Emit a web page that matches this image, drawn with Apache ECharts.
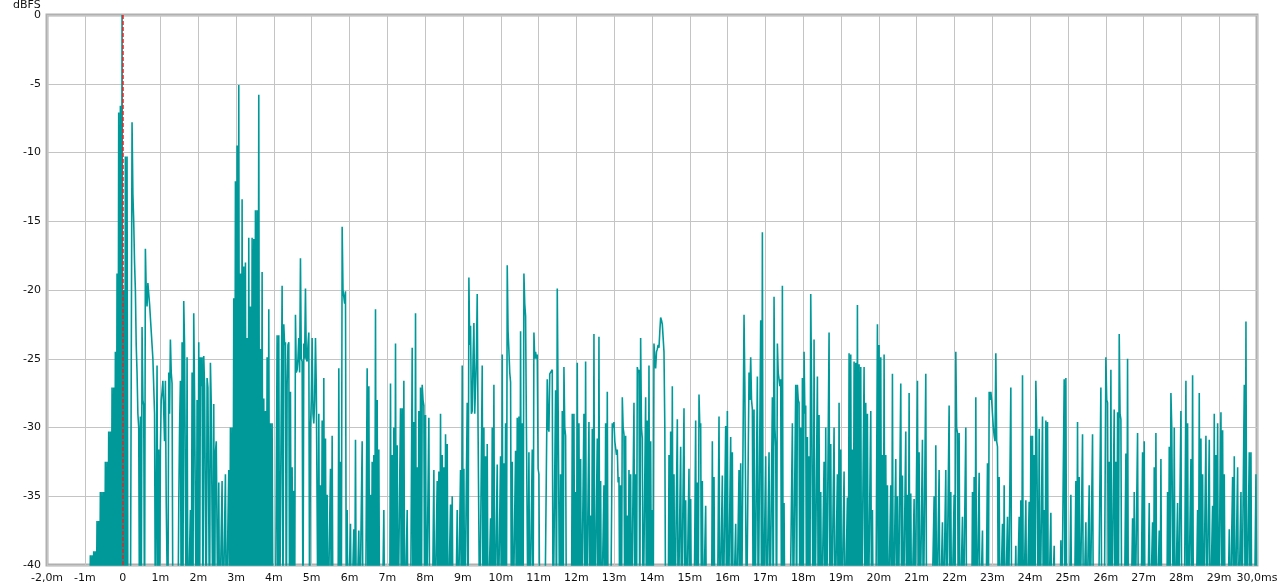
<!DOCTYPE html>
<html>
<head>
<meta charset="utf-8">
<style>
html,body{margin:0;padding:0;background:#fff;}
#chart{width:1280px;height:587px;}
</style>
<script src="https://cdn.jsdelivr.net/npm/echarts@6/dist/echarts.min.js"></script>
</head>
<body>
<div id="chart"></div>
<script>
// Sampling grid of the measured response (ms)
const startTime = -2.0;
const sampleStep = 0.02205;

// Axis settings / tick labels
const xMin = -2, xMax = 30, xStep = 1;
const yMin = -40, yMax = 0, yStep = 5;
const xTickLabels = ['-2,0m','-1m','0','1m','2m','3m','4m','5m','6m','7m','8m','9m','10m','11m','12m','13m','14m','15m','16m','17m','18m','19m','20m','21m','22m','23m','24m','25m','26m','27m','28m','29m','30,0ms'];
const yAxisTitle = 'dBFS';
const markerTime = 0;

// Levels in dBFS, consecutive samples (values below -40 are off-scale)
const levelsA = [
-45,-45,-45,-45,-45,-45,-45,-45,-45,-45,-45,-45,-45,-45,-45,-45,-45,-45,-45,-45,-45,-45,-45,-45,-45,-45,
-45,-45,-45,-45,-45,-45,-45,-45,-45,-45,-45,-45,-45,-45,-45,-45,-45,-45,-45,-45,-45,-45,-45,-45,-45,-45,
-39.3,-45,-39.3,-45,-39,-45,-39,-45,-36.8,-45,-36.8,-45,-34.7,-45,-34.7,-45,-34.7,-45,-32.5,-45,
-32.5,-45,-30.3,-45,-30.3,-45,-27.1,-45,-27.1,-45,-24.5,-45,-18.8,-45,-7.1,-45,-6.6,-45,0,-45,
-20,-45,-10.3,-45,-10.3,-45,-45,-45,-45,-45,-7.8,-13,-15,-18,-20,-24,-26,-29,-30,-45,
-29.2,-45,-22.7,-28,-28.4,-45,-17.0,-20,-21.2,-19.5,-19.6,-21,-22,-23,-24,-25,-27,-29,-45,-45,
-25.5,-45,-31.6,-45,-31.6,-28,-27.4,-26.6,-26.6,-31,-26.6,-35.5,-35.5,-45,-26,-29,-23.6,-26,-26.8,-45,
-45,-45,-45,-45,-45,-45,-36.0,-30,-26.6,-45,-23.8,-45,-20.8,-24,-24,-45,-24.9,-45,-45,-45,
-36,-45,-26,-45,-21.7,-27.7,-27.7,-45,-28,-45,-23.8,-45,-24.9,-27,-24.9,-45,-24.8,-27,-27,-45,
-26.4,-27.1,-27.1,-45,-25.3,-28.3,-28.3,-45,-28.3,-45,-31.8,-31,-31,-45,-34,-45,-45,-45,-33.9,-45,
-45,-45,-33.4,-45,-45,-45,-33.1,-45,-30,-45,-30,-45,-20.6,-45,-12.1,-45,-9.5,-45,-5.1,-45,
-18.8,-45,-13.4,-45,-18.3,-45,-18,-45,-23.5,-45,-16.2,-45
];
const levelsB = [
-21.2,-45,-16.2,-45,-16.3,-45,-14.2,-45,-14.2,-45,-5.8,-45,-24.3,-45,-18.7,-45,-27.9,-45,-28.8,-45,
-24.9,-45,-21.4,-45,-29.7,-45,-29.7,-45,-45,-45,-45,-45,-23.3,-45,-23.3,-45,-45,-45,-19.7,-45,
-22.5,-24,-23.8,-45,-26.9,-24,-23.8,-45,-27.4,-45,-32.9,-45,-34.6,-45,-21.8,-26,-25.8,-25,-23.5,-26,
-17.7,-25,-25.2,-45,-23.9,-25,-19.9,-25,-25.2,-24,-23.1,-45,-30.1,-28,-23.5,-29,-29.7,-28,-23.5,-27,
-27.1,-45,-29,-45,-34.2,-45,-29.5,-45,-26.4,-45,-30.8,-45,-34.9,-45,-45,-45,-33,-45,-30.6,-45,
-45,-45,-45,-45,-45,-45,-25.7,-45,-32.5,-45,-15.4,-20,-20.1,-21,-20.1,-45,-36,-45,-45,-45,
-37,-45,-45,-45,-37.4,-45,-30.9,-45,-45,-45,-37.5,-45,-45,-45,-31,-45,-45,-45,-45,-45,
-25.7,-45,-27,-45,-34.9,-45,-32.5,-45,-32,-45,-21.4,-45,-28,-45,-31.6,-45,-45,-45,-45,-45,
-36,-45,-45,-45,-45,-45,-45,-45,-26.8,-45,-32,-45,-30,-45,-23.9,-45,-31.3,-45,-45,-45,
-28.6,-45,-28.6,-45,-26.6,-45,-45,-45,-36,-45,-45,-45,-45,-45,-24.2,-45,-29.6,-45,-21.7,-45,
-32.9,-45,-28.8,-45,-27.1,-45,-26.9,-28,-28.4,-45,-29.1,-45,-45,-45,-29.3,-45,-45,-45,-45,-45,
-33.1,-45,-45,-45,-33.9,-45,-33.2,-45,-29,-45,-32,-45,-32.9,-45,-30.5,-45,-31.2,-45,-45,-45
];
const levelsC = [
-35.6,-45,-35,-45,-45,-45,-45,-45,-36,-45,-45,-45,-33.1,-45,-25.5,-45,-33,-45,-45,-45,
-28.2,-45,-19.1,-24,-22.6,-29,-28.8,-25,-22.4,-29,-29.1,-25,-20.3,-30,-30,-45,-45,-45,-25.5,-45,
-30,-45,-32.1,-45,-31.2,-45,-45,-45,-36.6,-45,-30,-45,-26.9,-45,-45,-45,-32.7,-45,-45,-45,
-32.1,-45,-24.7,-45,-32.6,-45,-29.7,-45,-18.2,-23,-24.4,-26,-26.7,-45,-32.5,-45,-45,-45,-31.7,-45,
-29.3,-45,-29.2,-45,-23,-45,-29.7,-45,-18.8,-21,-21.9,-30,-30,-45,-31.8,-45,-45,-45,-31.6,-45,
-23.1,-25,-24.5,-25,-24.7,-33,-33.4,-45,-45,-45,-45,-45,-45,-45,-45,-45,-26.5,-30,-30.3,-26.1,
-26.1,-26,-25.8,-45,-45,-45,-27.3,-45,-19.9,-28,-28,-45,-33.4,-45,-28.8,-45,-25.6,-30,-30.6,-45,
-45,-45,-45,-45,-45,-45,-29,-45,-29,-45,-34.7,-45,-25.3,-45,-29.7,-45,-32.3,-45,-45,-45,
-29,-45,-25.2,-45,-45,-45,-29.6,-45,-36.4,-45,-30.1,-45,-23.2,-45,-45,-45,-30.8,-45,-23.4,-45,
-33.9,-45,-45,-45,-34.2,-45,-29.7,-45,-27.4,-45,-45,-45,-45,-45,-29.7,-30,-29.6,-31,-30.9,-32,
-31.6,-34,-33.6,-45,-34.2,-45,-27.8,-30,-30.5,-45,-30.6,-45,-36.4,-45,-33.1,-45,-33.4,-45,-45,-45,
-28.2,-45,-33.4,-45,-25.6,-26,-25.8,-45,-23.5,-30,-30.8,-45,-45,-45,-27.8,-45,-29.5,-45,-25.5,-45
];
const levelsD = [
-31,-45,-36,-45,-23.9,-25,-25.7,-24.5,-24.3,-24,-24.2,-23,-22,-22.2,-22.5,-23.5,-24.5,-30,-45,-45,
-45,-45,-32,-45,-30.3,-45,-27,-45,-33.4,-45,-45,-45,-29.4,-45,-45,-45,-31.4,-45,-45,-45,
-28.6,-45,-35.3,-45,-45,-45,-33,-45,-35.2,-45,-45,-45,-45,-45,-29.5,-45,-34,-45,-27.6,-30,
-29.7,-45,-33.9,-45,-45,-45,-35.7,-45,-45,-45,-45,-45,-45,-45,-31,-45,-33.6,-45,-45,-45,
-45,-45,-29.2,-45,-45,-45,-33.5,-45,-45,-45,-29.9,-45,-28.8,-45,-45,-45,-30.7,-45,-31.8,-45,
-45,-45,-37,-45,-45,-45,-33.1,-45,-32.6,-45,-45,-45,-21.8,-27,-27.1,-45,-45,-45,-26,-28,
-24.9,-28,-28.7,-45,-28.7,-45,-45,-45,-26.3,-45,-45,-45,-22.2,-45,-15.8,-45,-45,-45,-32.1,-45,
-45,-45,-31.8,-45,-45,-45,-27.8,-45,-20.5,-30,-31.4,-45,-23.9,-26,-26,-27,-26.5,-45,-19.7,-45,
-35.5,-45,-45,-45,-45,-45,-45,-45,-45,-45,-29.7,-45,-45,-45,-26.9,-45,-26.9,-28,-28.2,-45,
-30,-45,-26.4,-45,-24.5,-29,-28.4,-45,-30.7,-45,-32.1,-45,-20.3,-27,-27.1,-45,-23.6,-45,-45,-45,
-26.3,-45,-29.1,-45,-34.7,-45,-45,-45,-32.5,-45,-30,-45,-45,-45,-23.1,-45,-31.2,-45,-45,-45,
-30,-45,-45,-45,-33.4,-45,-28.2,-45,-31.6,-45,-45,-45,-33.2,-45,-45,-45,-35.1,-45,-24.6,-45
];
const levelsE = [
-24.7,-45,-31.6,-45,-25.2,-45,-25.3,-45,-21.1,-45,-25.4,-45,-25.6,-45,-45,-45,-25.6,-45,-28.2,-45,
-29,-45,-45,-45,-28.8,-45,-36,-45,-45,-45,-45,-45,-22.5,-45,-24,-45,-24.9,-45,-32,-45,
-24.7,-45,-32,-45,-34.2,-45,-45,-45,-34.2,-45,-26.1,-45,-45,-45,-32.3,-45,-35,-45,-45,-45,
-26.8,-45,-33.5,-45,-45,-45,-30.3,-45,-34.9,-45,-27.5,-45,-34.8,-45,-45,-45,-35.2,-45,-45,-45,
-26.6,-45,-31.8,-45,-45,-45,-30.9,-45,-45,-45,-26.1,-45,-45,-45,-45,-45,-45,-45,-45,-45,
-35,-45,-31.3,-45,-45,-45,-33.1,-45,-45,-45,-36.9,-45,-45,-45,-33.1,-45,-45,-45,-28.4,-45,
-34.7,-45,-45,-45,-34.9,-45,-24.5,-30,-30.4,-45,-30.4,-45,-45,-45,-36.5,-45,-45,-45,-30,-45,
-45,-45,-45,-45,-45,-45,-34.7,-45,-33.6,-45,-27.8,-45,-45,-45,-33.3,-45,-45,-45,-37.5,-45,
-45,-45,-45,-45,-32.6,-45,-27.4,-28,-27.4,-28,-28.1,-30,-30.6,-31,-24.6,-31,-31.4,-45,-33.6,-45,
-45,-45,-37,-45,-34.2,-45,-45,-45,-36.5,-45,-45,-45,-27.1,-45,-45,-45,-45,-45,-38.6,-45,
-45,-45,-36.5,-45,-35.3,-45,-26.2,-45,-45,-45,-35.3,-45,-45,-45,-35.4,-45,-30.6,-45,-30.6,-45,
-32,-45,-26.6,-30,-30,-45,-30.1,-45,-45,-45,-29.2,-45,-36,-45,-29.5,-45,-29.6,-45,-45,-45
];
const levelsF = [
-36.2,-45,-45,-45,-38.6,-45,-45,-45,-45,-45,-45,-45,-38.2,-45,-45,-45,-26.5,-45,-26.4,-45,
-45,-45,-45,-45,-34.9,-45,-45,-45,-45,-45,-33.9,-45,-29.6,-45,-33.6,-45,-45,-45,-30.5,-45,
-45,-45,-36.9,-45,-45,-45,-34.2,-45,-45,-45,-30.5,-45,-45,-45,-45,-45,-45,-45,-45,-45,
-27.1,-45,-45,-45,-45,-45,-24.9,-28,-28.2,-45,-32.5,-45,-25.8,-45,-45,-45,-28.7,-45,-32.5,-45,
-28.9,-45,-23.2,-29,-29.4,-45,-45,-45,-45,-45,-31.9,-45,-25,-45,-45,-45,-45,-45,-36.6,-45,
-34.7,-45,-45,-45,-30.4,-45,-45,-45,-45,-45,-31.8,-45,-31,-45,-45,-45,-45,-45,-35.5,-45,
-45,-45,-36.9,-45,-32.9,-45,-30.4,-45,-45,-45,-37.5,-45,-32.3,-45,-45,-45,-45,-45,-45,-45,
-34.7,-45,-31.4,-45,-27.5,-30,-29.9,-45,-30,-45,-45,-45,-35.5,-45,-45,-45,-28.8,-45,-45,-45,
-45,-45,-26.6,-45,-29.7,-45,-45,-45,-32.3,-45,-26.2,-45,-45,-45,-45,-45,-36,-45,-27.5,-45,
-30.8,-45,-33.4,-45,-45,-45,-30.6,-45,-45,-45,-30.9,-45,-45,-45,-35.7,-45,-29,-45,-32,-45,
-29.7,-45,-45,-45,-28.9,-45,-30.2,-45,-33.4,-45,-45,-45,-45,-45,-37.4,-45,-45,-45,-33.6,-45,
-32.1,-45,-45,-45,-32.9,-45,-45,-45,-34.7,-45,-45,-45,-26.9,-45,-22.3,-45,-45,-45,-31.8,-45,
-31.8,-45,-45,-45,-45,-45,-33.4,-45
];

const levels = [].concat(levelsA, levelsB, levelsC, levelsD, levelsE, levelsF);
const seriesData = levels.map((v, i) => [startTime + i * sampleStep, v]);

const chart = echarts.init(document.getElementById('chart'), null, {renderer: 'canvas'});
const font = 'DejaVu Sans';
chart.setOption({
  animation: false,
  backgroundColor: '#ffffff',
  title: {
    text: yAxisTitle, left: 13, top: 0, padding: 0,
    textStyle: {color: '#111', fontFamily: font, fontSize: 11, fontWeight: 'normal'}
  },
  grid: {
    left: 47, right: 23, top: 15, bottom: 22,
    show: true, borderColor: '#b0b0b0', borderWidth: 3,
    outerBoundsMode: 'none'
  },
  xAxis: {
    type: 'value', min: xMin, max: xMax, interval: xStep,
    axisLine: {show: false},
    axisTick: {show: false},
    splitLine: {show: true, lineStyle: {color: '#c4c4c4', width: 1}},
    axisLabel: {
      color: '#111', fontFamily: font, fontSize: 11, margin: 8,
      showMinLabel: true, showMaxLabel: true,
      formatter: v => xTickLabels[Math.round((v - xMin) / xStep)]
    }
  },
  yAxis: {
    type: 'value', min: yMin, max: yMax, interval: yStep,
    axisLine: {show: false},
    axisTick: {show: false},
    splitLine: {show: true, lineStyle: {color: '#c4c4c4', width: 1}},
    axisLabel: {color: '#111', fontFamily: font, fontSize: 11, margin: 6}
  },
  series: [
    {
      type: 'line', data: seriesData, showSymbol: false, symbol: 'none',
      lineStyle: {color: '#009999', width: 1.6}, clip: true, z: 3
    },
    {
      type: 'line', data: [], z: 5, silent: true,
      markLine: {
        silent: true, symbol: ['none', 'none'], animation: false,
        label: {show: false},
        lineStyle: {color: '#ff1a1a', type: [4, 2], width: 1.5},
        data: [{xAxis: markerTime}]
      }
    }
  ]
});
</script>
</body>
</html>
